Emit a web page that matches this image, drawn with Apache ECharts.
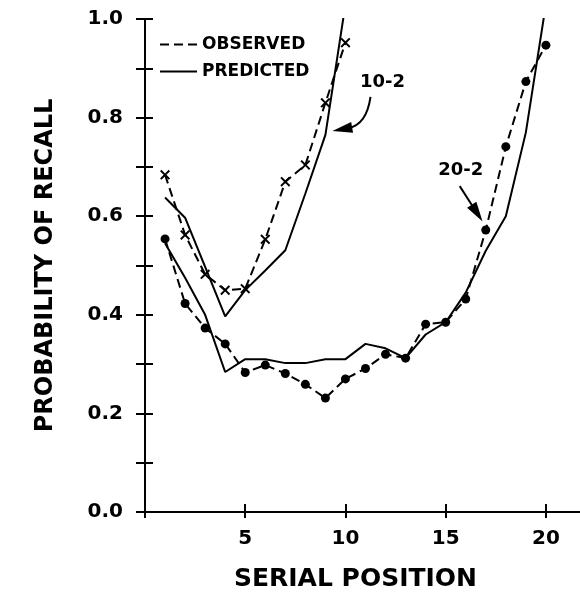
<!DOCTYPE html>
<html>
<head>
<meta charset="utf-8">
<script src="https://cdn.jsdelivr.net/npm/echarts@6/dist/echarts.min.js"></script>
<style>
  html, body { margin: 0; padding: 0; background: #fff; }
  #chart { width: 580px; height: 593px; }
</style>
</head>
<body>
<div id="chart"></div>
<script>
  // serial positions
  var pos10 = [1, 2, 3, 4, 5, 6, 7, 8, 9, 10];
  var pos20 = [1, 2, 3, 4, 5, 6, 7, 8, 9, 10, 11, 12, 13, 14, 15, 16, 17, 18, 19, 20];

  // 10-2 list
  var obs10 = [0.684, 0.562, 0.482, 0.45, 0.453, 0.553, 0.67, 0.704, 0.83, 0.952];
  var pred10 = [0.638, 0.597, 0.497, 0.397, 0.45, 0.49, 0.531, 0.646, 0.765, 1.03];

  // 20-2 list
  var obs20 = [0.554, 0.423, 0.373, 0.341, 0.283, 0.298, 0.281, 0.259, 0.231, 0.27,
               0.291, 0.32, 0.312, 0.381, 0.385, 0.432, 0.572, 0.741, 0.873, 0.947];
  var pred20 = [0.545, 0.475, 0.40, 0.284, 0.31, 0.31, 0.302, 0.302, 0.31, 0.31,
                0.341, 0.332, 0.312, 0.36, 0.385, 0.445, 0.53, 0.60, 0.77, 1.03];

  var xTicks = [5, 10, 15, 20];
  var legendNames = ['OBSERVED', 'PREDICTED'];

  // curve labels: text position, arrow start, arrow tip (data coords)
  var labels = [
    { text: '10-2', at: [11.85, 0.872], from: [11.25, 0.842], to: [9.35, 0.773], bend: 1 },
    { text: '20-2', at: [15.75, 0.694], from: [15.7, 0.661], to: [16.84, 0.589], bend: 0 }
  ];

  function pairs(xs, ys) {
    return xs.map(function (x, i) { return [x, ys[i]]; });
  }

  var FONT = 'DejaVu Sans';
  var crossPath = 'path://M0,1.4L1.4,0L5,3.6L8.6,0L10,1.4L6.4,5L10,8.6L8.6,10L5,6.4L1.4,10L0,8.6L3.6,5Z';
  var dashIcon = 'path://M0,0h9v2h-9zM14,0h9v2h-9zM28,0h9v2h-9z';
  var solidIcon = 'path://M0,0h37v2h-37z';

  var chart = echarts.init(document.getElementById('chart'));

  var axisBase = {
    type: 'value',
    axisLine: { show: true, lineStyle: { color: '#000', width: 2 } },
    splitLine: { show: false }
  };

  var option = {
    backgroundColor: '#fff',
    animation: false,
    grid: { left: 145, right: -6, top: 19, bottom: 81, containLabel: false, outerBoundsMode: 'none' },
    legend: {
      orient: 'vertical',
      left: 160,
      top: 36,
      padding: 0,
      itemGap: 10,
      itemWidth: 37,
      itemHeight: 2,
      selectedMode: false,
      data: [
        { name: legendNames[0], icon: dashIcon },
        { name: legendNames[1], icon: solidIcon }
      ],
      textStyle: { fontFamily: FONT, fontWeight: 'bold', fontSize: 17, color: '#000', lineHeight: 17 }
    },
    xAxis: [
      Object.assign({}, axisBase, {
        min: 0, max: 22, interval: 5,
        name: 'SERIAL POSITION',
        nameLocation: 'middle',
        nameGap: 55,
        nameTextStyle: { fontFamily: FONT, fontWeight: 'bold', fontSize: 25, color: '#000', padding: [0, 20, 0, 0] },
        axisTick: { show: true, inside: true, length: 8, lineStyle: { color: '#000', width: 2 } },
        axisLabel: {
          margin: 17, fontFamily: FONT, fontWeight: 'bold', fontSize: 20, color: '#000',
          formatter: function (v) { return xTicks.indexOf(v) >= 0 ? String(v) : ''; }
        }
      }),
      Object.assign({}, axisBase, {
        position: 'top',
        min: 0, max: 22, interval: 5,
        axisTick: { show: true, inside: true, length: 6, lineStyle: { color: '#000', width: 2 } },
        axisLabel: { show: false }
      })
    ],
    yAxis: [
      Object.assign({}, axisBase, {
        min: 0, max: 1, interval: 0.1,
        name: 'PROBABILITY OF RECALL',
        nameLocation: 'middle',
        nameGap: 87,
        nameTextStyle: { fontFamily: FONT, fontWeight: 'bold', fontSize: 24, color: '#000' },
        axisTick: { show: true, inside: true, length: 8, lineStyle: { color: '#000', width: 2 } },
        axisLabel: {
          margin: 22, fontFamily: FONT, fontWeight: 'bold', fontSize: 20, color: '#000',
          formatter: function (v) {
            return Math.round(v * 10) % 2 === 0 ? v.toFixed(1) : '';
          }
        }
      }),
      Object.assign({}, axisBase, {
        position: 'right',
        min: 0, max: 1, interval: 0.1,
        axisTick: { show: true, inside: true, length: 9, lineStyle: { color: '#000', width: 2 } },
        axisLabel: { show: false }
      })
    ],
    series: [
      {
        name: 'OBSERVED', type: 'line', data: pairs(pos10, obs10),
        symbol: crossPath, symbolSize: 10,
        itemStyle: { color: '#000' },
        lineStyle: { color: '#000', width: 2, type: [9, 5] }
      },
      {
        name: 'PREDICTED', type: 'line', data: pairs(pos10, pred10),
        symbol: 'none',
        itemStyle: { color: '#000' },
        lineStyle: { color: '#000', width: 2 }
      },
      {
        name: 'OBSERVED', type: 'line', data: pairs(pos20, obs20),
        symbol: 'circle', symbolSize: 9,
        itemStyle: { color: '#000' },
        lineStyle: { color: '#000', width: 2, type: [9, 5] }
      },
      {
        name: 'PREDICTED', type: 'line', data: pairs(pos20, pred20),
        symbol: 'none',
        itemStyle: { color: '#000' },
        lineStyle: { color: '#000', width: 2 }
      }
    ]
  };
  chart.setOption(option);

  /* curve labels with arrows */
  var elements = [];
  labels.forEach(function (lb) {
    var t = chart.convertToPixel({ gridIndex: 0 }, lb.at);
    var a = chart.convertToPixel({ gridIndex: 0 }, lb.from);
    var b = chart.convertToPixel({ gridIndex: 0 }, lb.to);
    elements.push({
      type: 'text', x: t[0], y: t[1],
      style: { text: lb.text, fill: '#000', font: 'bold 18px "DejaVu Sans"', align: 'center', verticalAlign: 'middle' }
    });
    var cp = lb.bend ? [a[0] - 4, b[1] - 6] : [(a[0] + b[0]) / 2, (a[1] + b[1]) / 2];
    // direction of the tip
    var dx = b[0] - cp[0], dy = b[1] - cp[1];
    var len = Math.sqrt(dx * dx + dy * dy);
    var ux = dx / len, uy = dy / len;
    var headLen = 20, headW = 5.5;
    var base = [b[0] - ux * headLen, b[1] - uy * headLen];
    elements.push({
      type: 'bezierCurve',
      shape: { x1: a[0], y1: a[1], x2: base[0] + ux * 4, y2: base[1] + uy * 4, cpx1: cp[0], cpy1: cp[1] },
      style: { stroke: '#000', lineWidth: 2, fill: null }
    });
    elements.push({
      type: 'polygon',
      shape: { points: [b, [base[0] - uy * headW, base[1] + ux * headW], [base[0] + uy * headW, base[1] - ux * headW]] },
      style: { fill: '#000' }
    });
  });
  chart.setOption({ graphic: { elements: elements } });
</script>
</body>
</html>
